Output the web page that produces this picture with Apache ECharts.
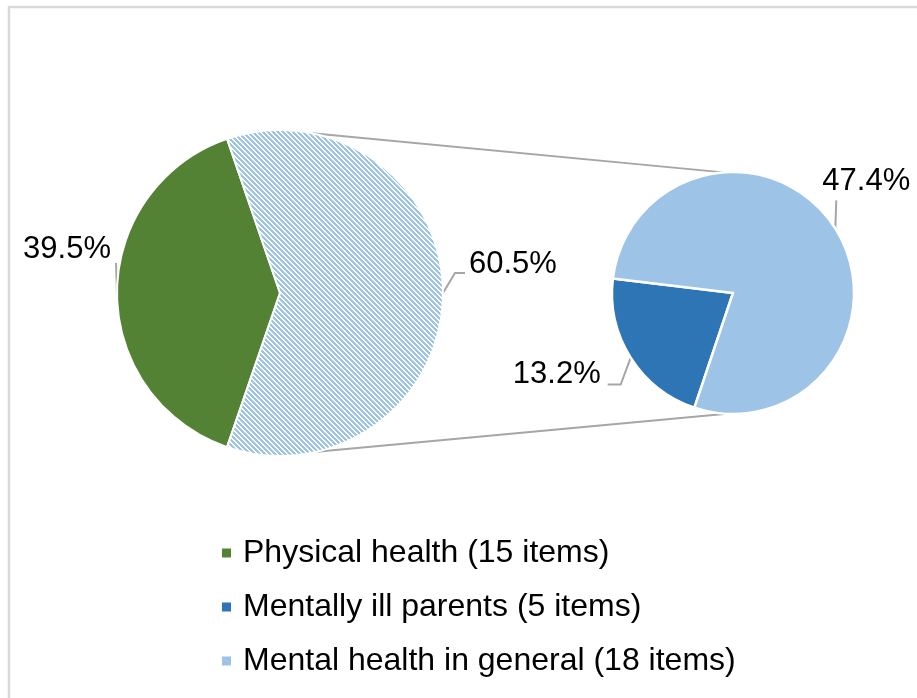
<!DOCTYPE html>
<html><head><meta charset="utf-8">
<script src="https://cdn.jsdelivr.net/npm/echarts@6/dist/echarts.min.js"></script>
<style>html,body{margin:0;padding:0;background:#fff}#c{width:917px;height:698px}</style>
</head><body><div id="c"></div>
<script>
// ---- data ----
const categories = ['Physical health (15 items)', 'Mentally ill parents (5 items)', 'Mental health in general (18 items)'];
const itemCounts = [15, 5, 18];
const otherName = 'Mental health (23 items)';

// ---- style / layout ----
const colors = ['#548235', '#2E75B6', '#9DC3E6'];
const FONT = '"Liberation Sans", Arial, sans-serif';
const C1 = [280, 293], R1 = 163;
const C2 = [733, 293], R2 = 121;
const total = itemCounts.reduce((a, b) => a + b, 0);
const mainValues = [itemCounts[0], itemCounts[1] + itemCounts[2]];
const subValues = [itemCounts[1], itemCounts[2]];
const S1 = 180 + (itemCounts[0] / total * 360) / 2;
const S2 = 251.4;

function midAngle(start, values, i) {
  const tot = values.reduce((a, b) => a + b, 0);
  let acc = 0; for (let j = 0; j < i; j++) acc += values[j];
  return start - (acc + values[i] / 2) / tot * 360;
}
function pt(c, r, a) { const t = a * Math.PI / 180; return [c[0] + r * Math.cos(t), c[1] - r * Math.sin(t)]; }

// hatch pattern (wide downward diagonal)
const P = 5;
const pc = document.createElement('canvas'); pc.width = P; pc.height = P;
const pctx = pc.getContext('2d');
pctx.fillStyle = '#ffffff'; pctx.fillRect(0, 0, P, P);
pctx.fillStyle = colors[2];
for (let x = 0; x < P; x++) for (let y = 0; y < P; y++) {
  const d = ((x - y) % P + P) % P;
  if (d <= 2) pctx.fillRect(x, y, 1, 1);
}

const pctFmt = p => (p.value / total * 100).toFixed(1) + '%';
const labelStyle = { fontSize: 31, fontFamily: FONT, color: '#000' };
const lineStyle = { color: '#A6A6A6', width: 2 };

function layoutMain(params) {
  const i = params.dataIndex;
  const p0 = pt(C1, R1, midAngle(S1, mainValues, i));
  if (i === 0) {
    const p1 = [p0[0] - 1, p0[1] - 30];
    return { x: p0[0] - 6, y: p0[1] - 44, align: 'right', verticalAlign: 'middle', labelLinePoints: [p0, p1, p1] };
  } else {
    const p1 = [p0[0] + 12, p0[1] - 20], p2 = [p0[0] + 22, p0[1] - 20];
    return { x: p0[0] + 26, y: p0[1] - 29, align: 'left', verticalAlign: 'middle', labelLinePoints: [p0, p1, p2] };
  }
}
function layoutSub(params) {
  const i = params.dataIndex;
  const p0 = pt(C2, R2, midAngle(S2, subValues, i));
  if (i === 0) {
    const p1 = [p0[0] - 10, p0[1] + 27], p2 = [p0[0] - 23, p0[1] + 27];
    return { x: p0[0] - 30, y: p0[1] + 17, align: 'right', verticalAlign: 'middle', labelLinePoints: [p0, p1, p2] };
  } else {
    const p1 = [p0[0] + 1, p0[1] - 28];
    return { x: p0[0] - 13, y: p0[1] - 47, align: 'left', verticalAlign: 'middle', labelLinePoints: [p0, p1, p1] };
  }
}

const a1 = pt(C1, R1, 78.5), b1 = pt(C2, R2, 94.5);
const a2 = pt(C1, R1, -77), b2 = pt(C2, R2, -93);

const chart = echarts.init(document.getElementById('c'));
chart.setOption({
  animation: false,
  backgroundColor: '#fff',
  legend: {
    orient: 'vertical', left: 220, top: 537, padding: 0,
    itemWidth: 11, itemHeight: 11, itemGap: 22, icon: 'rect',
    data: categories,
    textStyle: { fontSize: 32, fontFamily: FONT, color: '#000', lineHeight: 32, padding: [0, 0, 0, 6] }
  },
  graphic: [
    { type: 'rect', shape: { x: 9, y: 7, width: 1000, height: 1000 }, style: { fill: 'none', stroke: '#D9D9D9', lineWidth: 2.5 }, z: -1 },
    { type: 'line', shape: { x1: a1[0], y1: a1[1], x2: b1[0], y2: b1[1] }, style: { stroke: '#A6A6A6', lineWidth: 2 } },
    { type: 'line', shape: { x1: a2[0], y1: a2[1], x2: b2[0], y2: b2[1] }, style: { stroke: '#A6A6A6', lineWidth: 2 } }
  ],
  series: [
    {
      type: 'pie', center: C1, radius: R1, startAngle: S1, clockwise: true,
      avoidLabelOverlap: false, silent: true,
      itemStyle: { borderColor: '#fff', borderWidth: 2 },
      label: Object.assign({ show: true, position: 'outside', formatter: pctFmt }, labelStyle),
      labelLine: { show: true, lineStyle },
      labelLayout: layoutMain,
      data: [
        { name: categories[0], value: mainValues[0], itemStyle: { color: colors[0] } },
        { name: otherName, value: mainValues[1], itemStyle: { color: { image: pc, repeat: 'repeat' } } }
      ]
    },
    {
      type: 'pie', center: C2, radius: R2, startAngle: S2, clockwise: true,
      avoidLabelOverlap: false, silent: true,
      itemStyle: { borderColor: '#fff', borderWidth: 2.5 },
      label: Object.assign({ show: true, position: 'outside', formatter: pctFmt }, labelStyle),
      labelLine: { show: true, lineStyle },
      labelLayout: layoutSub,
      data: [
        { name: categories[1], value: subValues[0], itemStyle: { color: colors[1] } },
        { name: categories[2], value: subValues[1], itemStyle: { color: colors[2] } }
      ]
    }
  ]
});
</script></body></html>
